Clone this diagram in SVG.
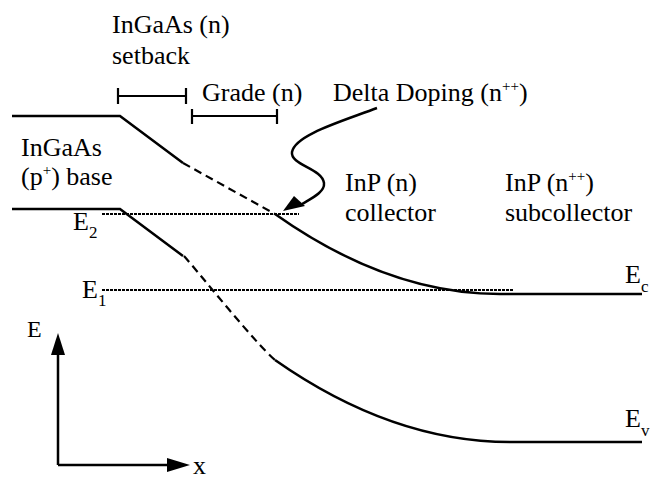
<svg xmlns="http://www.w3.org/2000/svg" width="651" height="479" viewBox="0 0 651 479">
<style>
text{font-family:'Liberation Serif','Times New Roman',serif;font-size:26px;fill:#000}
.sup{font-size:15px}
.sub{font-size:17px}
.solid{fill:none;stroke:#000;stroke-width:2.5}
.dash{fill:none;stroke:#000;stroke-width:2.2;stroke-dasharray:8 5}
.dot{fill:none;stroke:#000;stroke-width:2;stroke-dasharray:3 1}
.brk{fill:none;stroke:#000;stroke-width:2.2}
</style>
<g id="levels">
<line class="dot" x1="102" y1="214" x2="299" y2="214"/>
<line class="dot" x1="102" y1="290" x2="513" y2="290"/>
</g>
<g id="conduction-band">
<path class="solid" d="M12,116 L120,116 L183,163"/>
<path class="dash" d="M183,163 L275,214"/>
<path class="solid" d="M275,214 Q388,294 500,294 L642,294"/>
</g>
<g id="valence-band">
<path class="solid" d="M12,209 L120,209 L183,256"/>
<path class="dash" d="M184,256 C200,274 255,343 275,360"/>
<path class="solid" d="M275,360 Q392,442 510,442 L642,442"/>
</g>
<g id="brackets">
<path class="brk" d="M118,96 L186,96 M118,88 L118,104 M186,88 L186,104"/>
<path class="brk" d="M192,116 L277,116 M192,109 L192,124 M277,109 L277,124"/>
</g>
<g id="connectors">
<path class="solid" d="M377,108 C340,122 295,135 292,152 C290,165 322,168 324,183 C325,192 312,198 302,204"/>
<polygon points="283,211 294,196 305,206" fill="#000"/>
</g>
<g id="axes">
<path class="solid" d="M58,465 L58,352 M58,465 L170,465"/>
<polygon points="58,333 51,355 65,355" fill="#000"/>
<polygon points="190,465 167,458 167,472" fill="#000"/>
<text x="27" y="337" style="font-size:24px">E</text>
<text x="193" y="474">x</text>
</g>
<g id="label-setback"><text x="112" y="33">InGaAs (n)</text><text x="112" y="64">setback</text></g>
<g id="label-grade"><text x="202" y="101">Grade (n)</text></g>
<g id="label-delta"><text x="333" y="101">Delta Doping (n<tspan class="sup" dy="-10">++</tspan><tspan dy="10">)</tspan></text></g>
<g id="label-base"><text x="21" y="156">InGaAs</text><text x="21" y="185">(p<tspan class="sup" dy="-10">+</tspan><tspan dy="10">) base</tspan></text></g>
<g id="label-collector"><text x="345" y="191">InP (n)</text><text x="345" y="221">collector</text></g>
<g id="label-subcollector"><text x="505" y="191">InP (n<tspan class="sup" dy="-10">++</tspan><tspan dy="10">)</tspan></text><text x="505" y="221">subcollector</text></g>
<g id="label-E2"><text x="73" y="230">E<tspan class="sub" dy="8">2</tspan></text></g>
<g id="label-E1"><text x="82" y="298">E<tspan class="sub" dy="8">1</tspan></text></g>
<g id="label-Ec"><text x="625" y="283">E<tspan class="sub" dy="9">c</tspan></text></g>
<g id="label-Ev"><text x="625" y="427">E<tspan class="sub" dy="9">v</tspan></text></g>
</svg>
